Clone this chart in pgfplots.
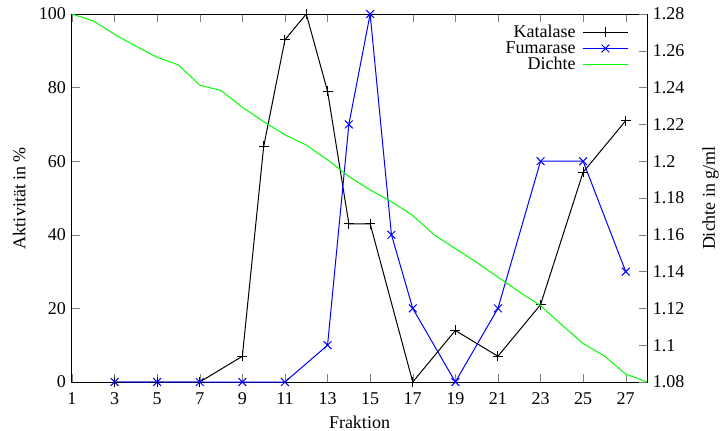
\documentclass[border=0pt]{standalone}
\usepackage{fontspec}
\setmainfont{Liberation Serif}
\usepackage{pgfplots}
\pgfplotsset{compat=1.18}
\begin{document}
\begin{tikzpicture}
\pgfplotsset{
  every axis/.append style={
    width=345pt, height=220.8pt, scale only axis,
    xmin=1, xmax=28,
    tick align=inside,
    major tick length=4.8pt,
    /pgf/number format/assume math mode=true,
    tick label style={font=\fontsize{10.8}{12}\selectfont},
    label style={font=\fontsize{10.8}{12}\selectfont},
  }
}
\begin{axis}[
  name=ax,
  ymin=0, ymax=100,
  xtick={1,3,...,27},
  ytick={0,20,...,100},
  xtick pos=both,
  ytick pos=left,
  xticklabel shift=2.5pt,
  xlabel={Fraktion},
  ylabel={Aktivität in \%},
  ylabel shift=1pt,
  line width=0.6pt,
  every axis plot/.append style={line width=0.6pt},
  legend style={at={(rel axis cs:0.968,0.971)}, anchor=north east,
    draw=none, fill=none, inner sep=0pt, outer sep=0pt,
    font=\fontsize{10.8}{12}\selectfont, row sep=1pt, column sep=4pt,
    nodes={inner sep=0pt},
    cells={anchor=east}},
  legend plot pos=right,
  legend image code/.code={
    \draw[#1, line width=0.8pt, mark=none] (0pt,0pt) -- (27pt,0pt);
    \draw[#1, line width=0.6pt, only marks] plot coordinates {(13.5pt,0pt)};
  },
]
\addplot[blue!0!black, color=black, mark=+, mark size=3pt] coordinates {
(3,0) (5,0) (7,0) (9,7) (10,64) (11,93) (12,100) (13,79) (14,43) (15,43) (17,0) (19,14) (21,7) (23,21) (25,57) (27,71)
};
\addlegendentry{Katalase}
\addplot[color=blue, mark=x, mark size=3.3pt] coordinates {
(3,0) (5,0) (7,0) (9,0) (11,0) (13,10) (14,70) (15,100) (16,40) (17,20) (19,0) (21,20) (23,60) (25,60) (27,30)
};
\addlegendentry{Fumarase}
\addlegendimage{color=green, no marks}
\addlegendentry{Dichte}
\end{axis}
\begin{axis}[
  ymin=1.08, ymax=1.28,
  ytick={1.08,1.10,...,1.28},
  axis y line*=right,
  axis x line=none,
  ylabel={Dichte in g/ml},
  ylabel shift=4pt,
  every axis plot/.append style={line width=0.6pt},
]
\addplot[green, no marks] coordinates {
(1,1.28) (2,1.2762) (3,1.269) (4,1.2625) (5,1.2565) (6,1.2523) (7,1.2413) (8,1.2384) (9,1.2293) (10,1.2215) (11,1.2143) (12,1.2088) (13,1.2007) (14,1.1917) (15,1.1844) (16,1.178) (17,1.1705) (18,1.16) (19,1.1525) (20,1.145) (21,1.137) (22,1.129) (23,1.1215) (24,1.111) (25,1.1009) (26,1.0941) (27,1.0843) (28,1.08)
};
\end{axis}
\pgfresetboundingbox
\path[use as bounding box] ([shift={(-43.2pt,-28.8pt)}]ax.south west) rectangle ([shift={(45pt,8.4pt)}]ax.north east);
\end{tikzpicture}
\end{document}
